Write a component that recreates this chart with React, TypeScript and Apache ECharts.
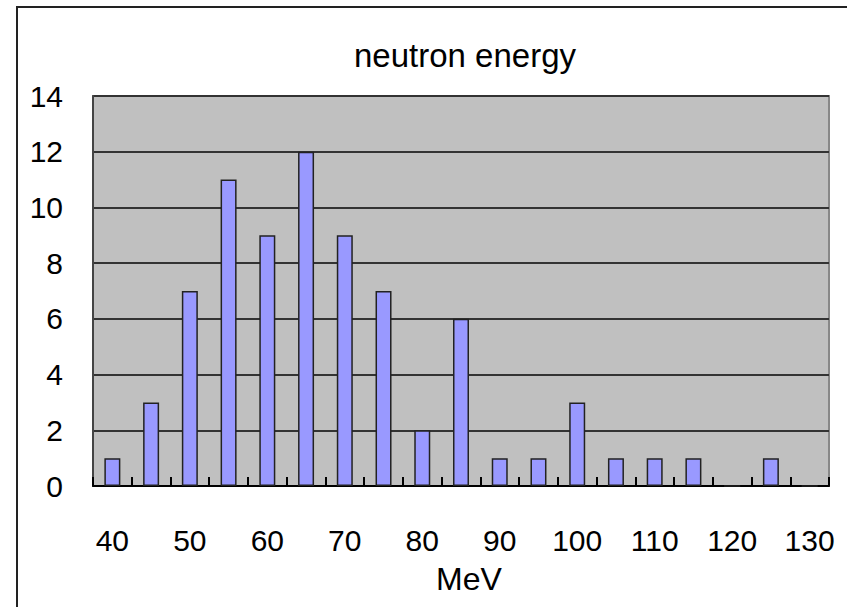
import React, { useEffect, useRef } from "react";
import * as echarts from "echarts";

const categories = ["40", "45", "50", "55", "60", "65", "70", "75", "80", "85", "90", "95", "100", "105", "110", "115", "120", "125", "130"];
const counts = [1, 3, 7, 11, 9, 12, 9, 7, 2, 6, 1, 1, 3, 1, 1, 1, 0, 1, 0];
const titleText = "neutron energy";
const xName = "MeV";
const yMin = 0;
const yMax = 14;
const yStep = 2;

export default function App() {
  const ref = useRef<HTMLDivElement>(null);
  useEffect(() => {
    if (!ref.current) return;
    const chart = echarts.init(ref.current, null, { renderer: "svg" });
    const font = "'Liberation Sans', Arial, sans-serif";
    chart.setOption({
      animation: false,
      backgroundColor: "#ffffff",
      title: {
        text: titleText,
        left: 460,
        top: 34,
        textAlign: "center",
        textStyle: { fontFamily: font, fontSize: 33, fontWeight: "normal", color: "#000" },
      },
      graphic: [
        {
          type: "rect",
          shape: { x: 17, y: 7, width: 900, height: 700 },
          style: { fill: "none", stroke: "#222", lineWidth: 2 },
          silent: true,
        },
      ],
      grid: {
        left: 93,
        right: 18,
        top: 96,
        bottom: 121,
        show: true,
        backgroundColor: "#C0C0C0",
        borderColor: "#888888",
        borderWidth: 2,
      },
      xAxis: {
        type: "category",
        data: categories,
        name: xName,
        nameLocation: "middle",
        nameGap: 77,
        nameTextStyle: { fontFamily: font, fontSize: 32, color: "#000", padding: [0, 0, 0, 16] },
        axisLine: { show: true, lineStyle: { color: "#000", width: 2 } },
        axisTick: { show: true, inside: true, interval: 0, length: 9, lineStyle: { color: "#000", width: 2 } },
        axisLabel: { interval: 1, margin: 39, fontFamily: font, fontSize: 30, color: "#000" },
        splitLine: { show: false },
      },
      yAxis: {
        type: "value",
        min: yMin,
        max: yMax,
        interval: yStep,
        axisLine: { show: true, lineStyle: { color: "#444", width: 2 } },
        axisTick: { show: false },
        axisLabel: { margin: 30, fontFamily: font, fontSize: 30, color: "#000" },
        splitLine: { show: true, lineStyle: { color: "#333", width: 2 } },
      },
      series: [
        {
          type: "bar",
          data: counts,
          barWidth: 16,
          itemStyle: { color: "#9999FF", borderColor: "#222", borderWidth: 1.5 },
        },
      ],
    });
    return () => chart.dispose();
  }, []);
  return (
    <div
      ref={ref}
      style={{ position: "absolute", left: 0, top: 0, width: 847, height: 607 }}
    />
  );
}
